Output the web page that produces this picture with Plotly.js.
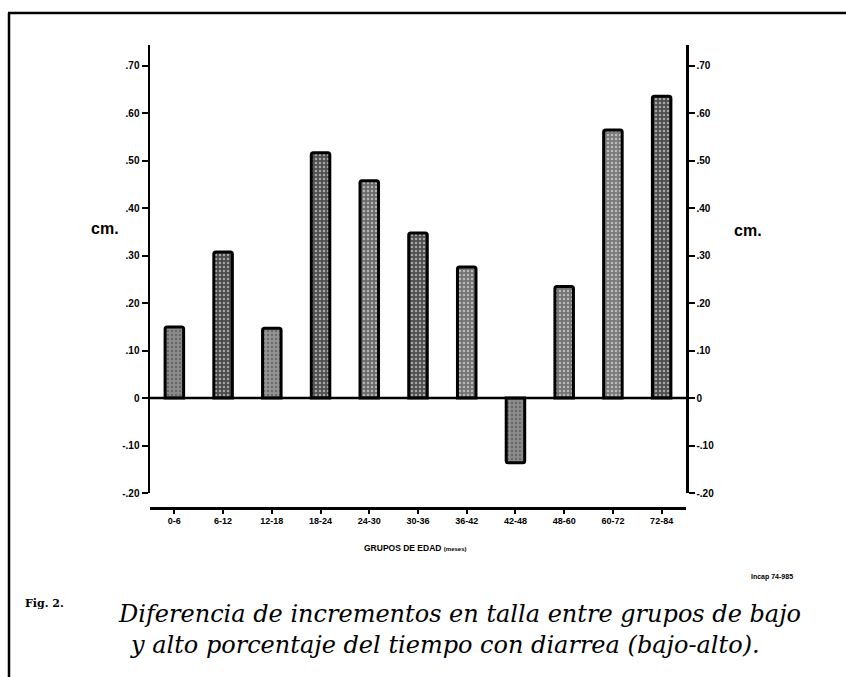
<!DOCTYPE html>
<html>
<head>
<meta charset="utf-8">
<script src="https://cdn.plot.ly/plotly-3.0.1.min.js"></script>
<style>html,body{margin:0;padding:0;background:#fff;}#chart{width:846px;height:677px;}</style>
</head>
<body>
<div id="chart"></div>
<script>
const categories = ['0-6','6-12','12-18','18-24','24-30','30-36','36-42','42-48','48-60','60-72','72-84'];
const values = [0.150, 0.308, 0.147, 0.517, 0.458, 0.348, 0.276, -0.136, 0.235, 0.565, 0.636];
const tickVals = [-0.2,-0.1,0,0.1,0.2,0.3,0.4,0.5,0.6,0.7];
const tickText = ['-.20','-.10','0','.10','.20','.30','.40','.50','.60','.70'];
const barShades = ['#8c8c8c','#4a4a4a','#949494','#505050','#6a6a6a','#505050','#737373','#8c8c8c','#737373','#7a7a7a','#4e4e4e'];

const W = 846, H = 677, L = 150, R = 686, T = 45, B = 508;
const pw = R - L, ph = B - T;
const px = x => (x - L) / pw;
const py = y => (B - y) / ph;

const traces = [
  {
    type: 'bar', x: categories, y: values, width: 0.38,
    marker: {
      color: barShades,
      line: {color: '#000', width: 3},
      pattern: {shape: '.', fgcolor: '#d8d8d8', fillmode: 'overlay', size: 4, solidity: 0.3},
      cornerradius: 2
    },
    hoverinfo: 'skip', showlegend: false
  },
  {
    type: 'scatter', mode: 'none', x: categories, y: values, yaxis: 'y2',
    hoverinfo: 'skip', showlegend: false
  }
];

const tickFont = {family: 'Liberation Sans, Arial, sans-serif', size: 10, color: '#000', weight: 'bold'};
const yCommon = {
  range: [-0.2, 0.744], domain: [py(493), 1],
  tickvals: tickVals, ticktext: tickText,
  ticks: 'outside', ticklen: 6, tickwidth: 2, tickcolor: '#000',
  showline: true, linewidth: 2.5, linecolor: '#000',
  showgrid: false, zeroline: false, tickfont: tickFont, fixedrange: true
};

const layout = {
  width: W, height: H,
  margin: {l: L, r: W - R, t: T, b: H - B},
  paper_bgcolor: '#fff', plot_bgcolor: '#fff',
  bargap: 0.6,
  xaxis: {
    type: 'category', range: [-0.5, 10.5],
    anchor: 'free', position: 0,
    showline: true, linewidth: 2.5, linecolor: '#000',
    ticks: 'outside', ticklen: 4, tickwidth: 2, tickcolor: '#000',
    showgrid: false, zeroline: false,
    tickfont: {family: 'Liberation Sans, Arial, sans-serif', size: 9, color: '#000', weight: 'bold'},
    fixedrange: true
  },
  yaxis: Object.assign({}, yCommon, {side: 'left'}),
  yaxis2: Object.assign({}, yCommon, {side: 'right', overlaying: 'y'}),
  shapes: [
    {type: 'line', xref: 'paper', yref: 'y', x0: 0, x1: 1, y0: 0, y1: 0, line: {color: '#000', width: 2.5}},
    {type: 'line', xref: 'paper', yref: 'paper', x0: px(8), x1: px(846), y0: py(13), y1: py(13), line: {color: '#000', width: 2.5}},
    {type: 'line', xref: 'paper', yref: 'paper', x0: px(9), x1: px(9), y0: py(13), y1: py(677), line: {color: '#000', width: 2.5}}
  ],
  annotations: [
    {xref: 'paper', yref: 'paper', x: px(415), y: py(548), xanchor: 'center', yanchor: 'middle', showarrow: false,
     text: 'GRUPOS DE EDAD <span style="font-size:6px">(meses)</span>',
     font: {family: 'Liberation Sans, Arial, sans-serif', size: 8.5, color: '#000', weight: 'bold'}},
    {xref: 'paper', yref: 'paper', x: px(105), y: py(228), xanchor: 'center', yanchor: 'middle', showarrow: false,
     text: 'cm.', font: {family: 'Liberation Sans, Arial, sans-serif', size: 16, color: '#000', weight: 'bold'}},
    {xref: 'paper', yref: 'paper', x: px(748), y: py(230), xanchor: 'center', yanchor: 'middle', showarrow: false,
     text: 'cm.', font: {family: 'Liberation Sans, Arial, sans-serif', size: 16, color: '#000', weight: 'bold'}},
    {xref: 'paper', yref: 'paper', x: px(795), y: py(577), xanchor: 'right', yanchor: 'middle', showarrow: false,
     text: 'Incap 74-985', font: {family: 'Liberation Sans Narrow, Arial, sans-serif', size: 7, color: '#000', weight: 'bold'}},
    {xref: 'paper', yref: 'paper', x: px(23), y: py(603), xanchor: 'left', yanchor: 'middle', showarrow: false,
     text: 'Fig. 2.', font: {family: 'DejaVu Serif, serif', size: 11, color: '#000', weight: 'bold'}},
    {xref: 'paper', yref: 'paper', x: px(116), y: py(614), xanchor: 'left', yanchor: 'middle', showarrow: false,
     text: '<i>Diferencia de incrementos en talla entre grupos de bajo</i>',
     font: {family: 'DejaVu Serif, serif', size: 24, color: '#000'}},
    {xref: 'paper', yref: 'paper', x: px(128), y: py(645), xanchor: 'left', yanchor: 'middle', showarrow: false,
     text: '<i>y alto porcentaje del tiempo con diarrea (bajo-alto).</i>',
     font: {family: 'DejaVu Serif, serif', size: 24, color: '#000'}}
  ]
};

Plotly.newPlot('chart', traces, layout, {displayModeBar: false, staticPlot: true});
</script>
</body>
</html>
